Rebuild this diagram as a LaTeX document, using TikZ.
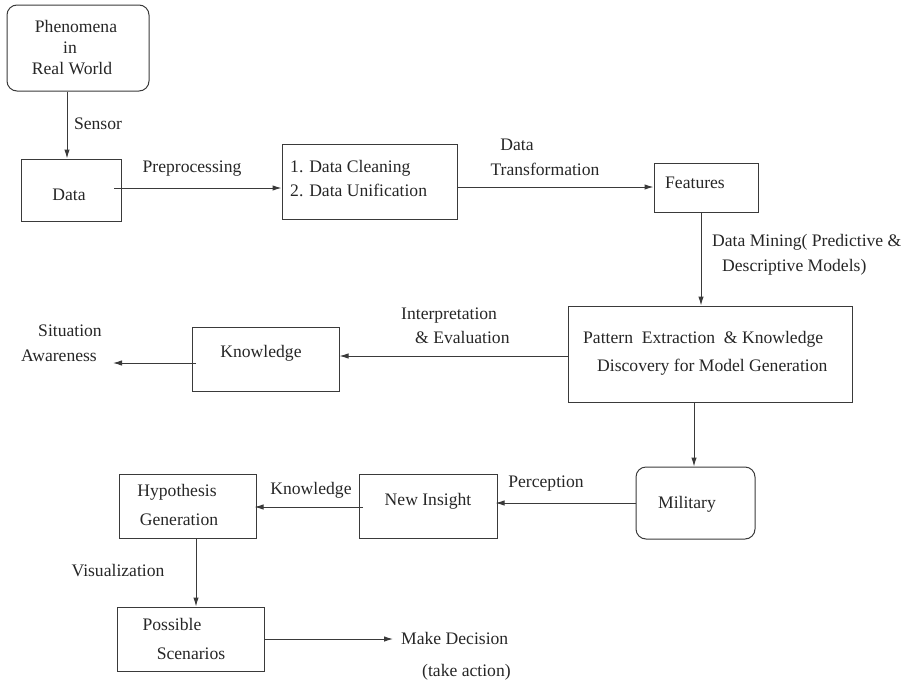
\documentclass[tikz,border=0pt]{standalone}
\usepackage{fontspec}
\setmainfont{Liberation Serif}
\usetikzlibrary{arrows.meta}
\definecolor{ink}{HTML}{3A3A3A}
\tikzset{
  box/.style={draw=ink, line width=1pt, rectangle, inner sep=0pt},
  rbox/.style={box, rounded corners=10pt},
  txt/.style={inner sep=0pt, text height=0.66em, text depth=0pt,
              font=\fontsize{17.6}{21}\selectfont, text=black!85},
  flow/.style={draw=ink, line width=1pt, -{Latex[length=9pt,width=5.5pt]}}
}
\begin{document}
\begin{tikzpicture}[x=1pt, y=-1pt]
\useasboundingbox (0,0) rectangle (902,683);

% boxes
\node[rbox, minimum width=142pt, minimum height=86pt] (phen) at (78,48) {};
\node[box, minimum width=100pt, minimum height=62pt] (data) at (71,190) {};
\node[box, minimum width=175pt, minimum height=75pt] (clean) at (369.5,181.5) {};
\node[box, minimum width=104pt, minimum height=49pt] (feat) at (706,187.5) {};
\node[box, minimum width=284pt, minimum height=96pt] (patt) at (710,354) {};
\node[box, minimum width=147pt, minimum height=64pt] (know) at (265.5,359) {};
\node[rbox, minimum width=119pt, minimum height=72pt] (mil) at (695.5,503) {};
\node[box, minimum width=138pt, minimum height=64pt] (insight) at (428,506) {};
\node[box, minimum width=137pt, minimum height=64pt] (hyp) at (187.5,506) {};
\node[box, minimum width=147pt, minimum height=64pt] (poss) at (190.5,639) {};

% texts inside boxes
\node[txt] (t1) at (76,29) {Phenomena};
\node[txt] (t2) at (70,50) {in};
\node[txt] (t3) at (72,71) {Real World};
\node[txt] (t4) at (69,197) {Data};
\node[txt, anchor=west] (t5) at (290,169) {1. Data Cleaning};
\node[txt, anchor=west] (t6) at (290,193) {2. Data Unification};
\node[txt, anchor=west] (t7) at (665,185) {Features};
\node[txt, anchor=west] (t8) at (583,340) {Pattern\ \ Extraction\ \ \& Knowledge};
\node[txt, anchor=west] (t9) at (597,368) {Discovery for Model Generation};
\node[txt] (t10) at (261,354) {Knowledge};
\node[txt] (t11) at (687,505) {Military};
\node[txt] (t12) at (428,502) {New Insight};
\node[txt] (t13) at (177,493) {Hypothesis};
\node[txt] (t14) at (179,522) {Generation};
\node[txt] (t15) at (172,627) {Possible};
\node[txt] (t16) at (191,656) {Scenarios};

% connector labels and free texts
\node[txt] (l1) at (98,126) {Sensor};
\node[txt] (l2) at (192,169) {Preprocessing};
\node[txt] (l3) at (517,147) {Data};
\node[txt] (l4) at (545,172) {Transformation};
\node[txt, anchor=west] (l5) at (712,243) {Data Mining( Predictive \&};
\node[txt, anchor=west] (l6) at (722,268) {Descriptive Models)};
\node[txt, anchor=west] (l7) at (401,316) {Interpretation};
\node[txt, anchor=west] (l8) at (415,340) {\& Evaluation};
\node[txt] (l9) at (70,333) {Situation};
\node[txt] (l10) at (59,358) {Awareness};
\node[txt] (l11) at (546,484) {Perception};
\node[txt] (l12) at (311,491) {Knowledge};
\node[txt] (l13) at (118,573) {Visualization};
\node[txt, anchor=west] (l14) at (401,641) {Make Decision};
\node[txt, anchor=west] (l15) at (422,673) {(take action)};

% free ends of connectors
\coordinate (dataout) at (114,188);
\coordinate (sitend) at (113,363);
\coordinate (knowout) at (196,363);
\coordinate (insout) at (363,507);
\coordinate (decend) at (393,639);

% connectors
\draw[flow] ([xshift=-11pt]phen.south) -- ([xshift=-4pt]data.north);
\draw[flow] (dataout) -- (clean.west |- dataout);
\draw[flow] (clean.east |- 0,187) -- (feat.west |- 0,187);
\draw[flow] ([xshift=-5pt]feat.south) -- ([xshift=-9pt]patt.north);
\draw[flow] (patt.west |- 0,356) -- (know.east |- 0,356);
\draw[flow] (knowout) -- (sitend);
\draw[flow] ([xshift=-16pt]patt.south) -- ([xshift=-1.5pt]mil.north);
\draw[flow] (mil.west |- 0,503) -- ([xshift=-2pt]insight.east |- 0,503);
\draw[flow] (insout) -- ([xshift=-2pt]hyp.east |- insout);
\draw[flow] ([xshift=8.5pt]hyp.south) -- ([xshift=5.5pt]poss.north);
\draw[flow] (poss.east) -- (decend);
\end{tikzpicture}
\end{document}
